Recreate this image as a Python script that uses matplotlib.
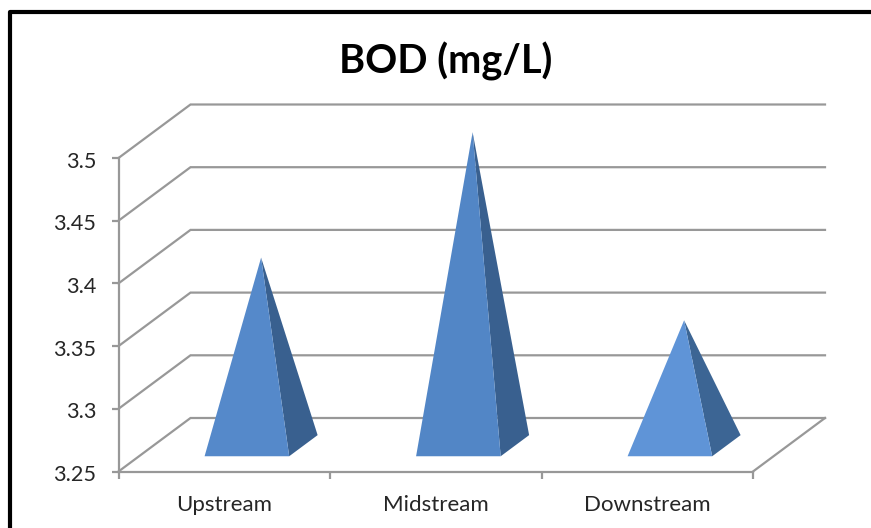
import matplotlib
matplotlib.use("Agg")
import matplotlib.pyplot as plt
from matplotlib.lines import Line2D
from matplotlib.patches import Polygon
from matplotlib.transforms import ScaledTranslation

plt.rcParams['font.family'] = ['Lato', 'DejaVu Sans']

categories = ['Upstream', 'Midstream', 'Downstream']
bod_values = [3.4, 3.5, 3.35]
y_ticks = [3.25, 3.3, 3.35, 3.4, 3.45, 3.5]
y_tick_labels = ['3.25', '3.3', '3.35', '3.4', '3.45', '3.5']

W, H = 871, 528
GRAY = '#989898'
LW = 1.6
front_colors = ['#5589CA', '#5286C6', '#5F94D7']
side_colors = ['#39608F', '#39608F', '#3C6594']

fig = plt.figure(figsize=(W / 100, H / 100), dpi=100, facecolor='white')
# front plane of the fake 3d box
ax = fig.add_axes([118.5 / W, 1 - 471.5 / H, 634.5 / W, 313.5 / H])
ax.set_xlim(0, 3)
ax.set_ylim(3.25, 3.5)
ax.patch.set_alpha(0)

# depth of the box, in data units of the axes
DEPTH_X = 72 / 634.5 * 3
DEPTH_Y = 53.5 / 313.5 * 0.25


def project(x, y, d):
    return x + d * DEPTH_X, y + d * DEPTH_Y


# gridlines: side wall and back wall
for v in y_ticks:
    x0, y0 = project(0, v, 0)
    x1, y1 = project(0, v, 1)
    x2, y2 = project(3, v, 1)
    ax.plot([x0, x1, x2], [y0, y1, y2], color=GRAY, lw=LW, clip_on=False, zorder=1,
            solid_joinstyle='miter')

# right edge of the floor
x0, y0 = project(3, 3.25, 0)
x1, y1 = project(3, 3.25, 1)
ax.plot([x0, x1], [y0, y1], color=GRAY, lw=LW, clip_on=False, zorder=1)

# pyramids
half_w = 0.2
shift = 0.01
d_front, d_back = 0.285, 0.68
base = y_ticks[0]
for i, val in enumerate(bod_values):
    c = i + 0.5 + shift
    fl = project(c - half_w, base, d_front)
    fr = project(c + half_w, base, d_front)
    br = project(c + half_w, base, d_back)
    apex = project(c, val, (d_front + d_back) / 2)
    ax.add_patch(Polygon([fr, br, apex], closed=True, fc=side_colors[i], ec='none',
                         clip_on=False, zorder=3))
    ax.add_patch(Polygon([fl, fr, apex], closed=True, fc=front_colors[i], ec='none',
                         clip_on=False, zorder=4))

for s in ['top', 'right']:
    ax.spines[s].set_visible(False)
for s in ['left', 'bottom']:
    ax.spines[s].set_color(GRAY)
    ax.spines[s].set_linewidth(LW)

ax.set_yticks(y_ticks)
ax.set_yticklabels(y_tick_labels)
ax.set_xticks([0, 1, 2, 3])
ax.set_xticklabels([])
ax.set_xticks([0.5, 1.5, 2.5], minor=True)
ax.set_xticklabels(categories, minor=True)
ax.tick_params(axis='y', length=5, width=LW, color=GRAY, labelsize=15.6, labelcolor='#262626', pad=11)
ax.tick_params(axis='x', which='major', length=5, width=LW, color=GRAY)
ax.tick_params(axis='x', which='minor', length=0, labelsize=16, labelcolor='#262626', pad=17)

# y labels sit a little below their ticks in the original
nudge = ScaledTranslation(0, -1.5 / 100, fig.dpi_scale_trans)
for lab in ax.get_yticklabels():
    lab.set_transform(lab.get_transform() + nudge)

fig.text(445.5 / W, 1 - 61 / H, 'BOD (mg/L)', ha='center', va='center', fontsize=28.6,
         fontweight='bold', color='black')

# black outer frame, right and bottom cropped off
fig.add_artist(Line2D([9.5 / W, 9.5 / W, 1], [0, 1 - 12 / H, 1 - 12 / H], color='black', lw=3,
                      solid_joinstyle='round'))

fig.savefig('out.png', dpi=100)
